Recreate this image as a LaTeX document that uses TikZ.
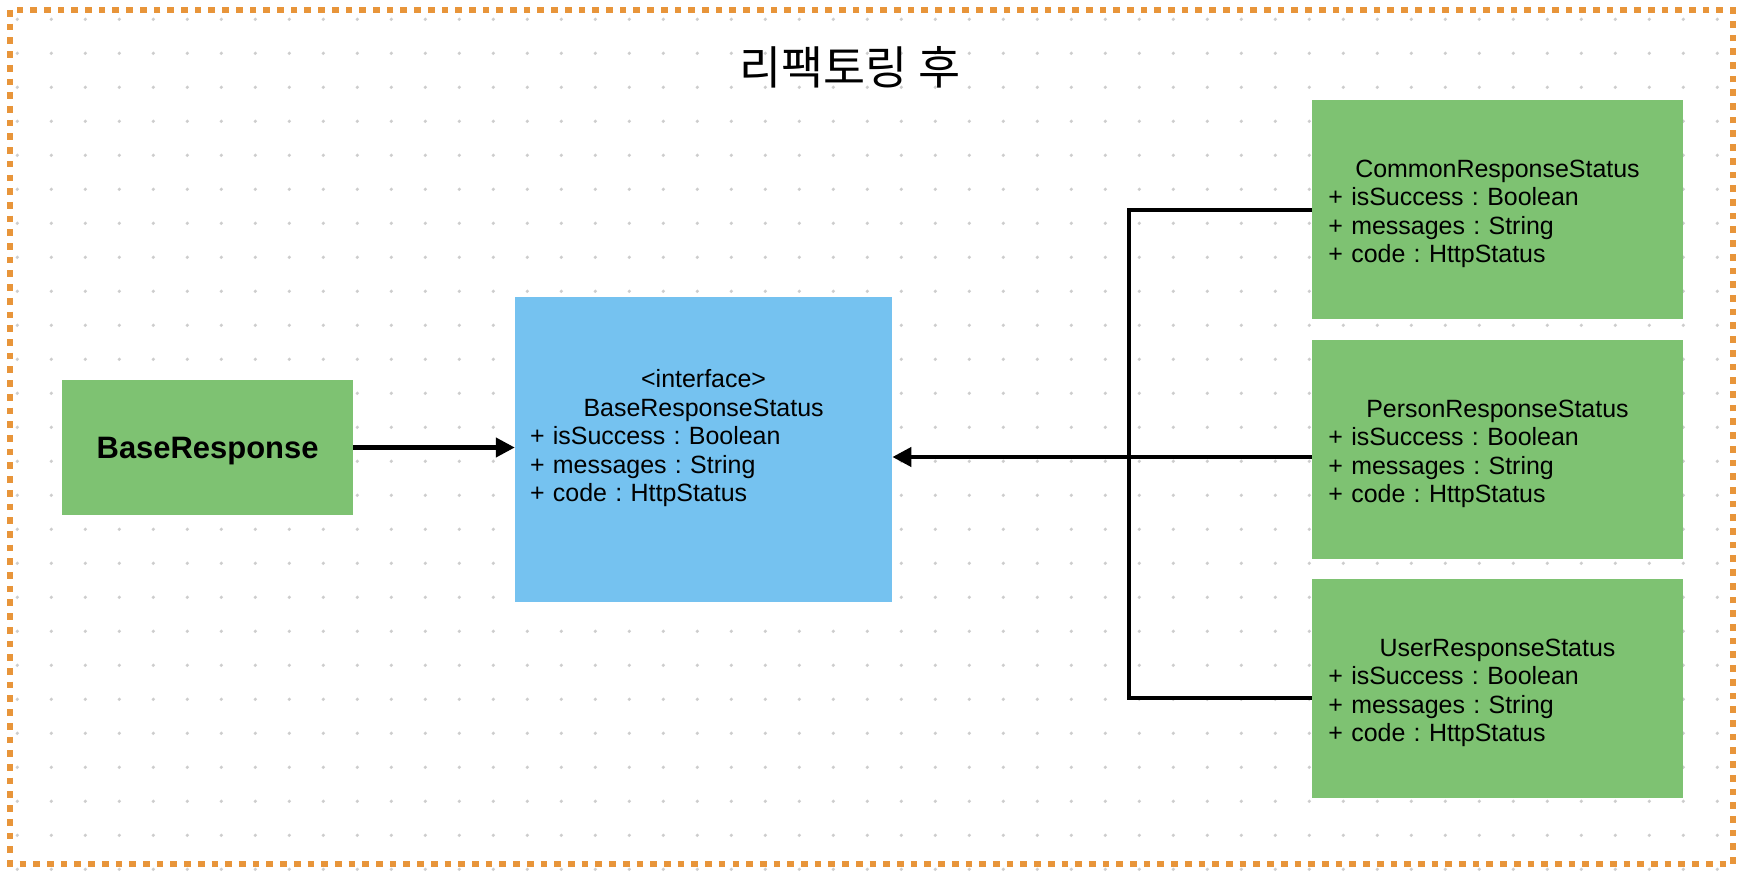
\documentclass[tikz,border=0pt]{standalone}
\usepackage{fontspec}
\setmainfont{Liberation Sans}
\newfontfamily\krfont{Noto Sans CJK KR}
\usetikzlibrary{arrows.meta}
\frenchspacing

\definecolor{frameorange}{RGB}{232,149,58}
\definecolor{boxgreen}{RGB}{126,194,114}
\definecolor{boxblue}{RGB}{117,194,240}
\definecolor{dotgray}{RGB}{205,205,205}

\begin{document}
\begin{tikzpicture}[x=0.01cm, y=-0.01cm,
        classbox/.style={fill=boxgreen, inner xsep=0.16cm, minimum width=3.7cm, minimum height=2.186cm,
                text width=3.38cm, align=left, font=\fontsize{7.1}{8.1}\selectfont},
        ifacebox/.style={fill=boxblue, minimum width=3.76cm, minimum height=3.045cm},
        wire/.style={line width=1.2pt},
        arrowwire/.style={wire, -{Triangle[length=0.19cm,width=0.19cm]}}]
                \useasboundingbox (0,0) rectangle (1750,876);

                % Dot grid
                \foreach \i in {0,...,50}
                        \foreach \j in {0,...,25}
                                \fill[dotgray] ({17.3+34*\i},{19.3+34*\j}) circle (1.8);

                % Frame & title
                \draw[frameorange, line width=0.067cm, dash pattern=on 0.067cm off 0.07cm] (10,10) rectangle (1733,864);
                \node[font=\krfont\fontsize{13}{15}\selectfont] (title) at (850,67) {리팩토링 후};

                % Boxes
                \node[fill=boxgreen, minimum width=2.902cm, minimum height=1.34cm, text depth=0pt,
                        font=\bfseries\fontsize{8.8}{10}\selectfont] (resp) at (207.6,447.5) {BaseResponse};

                \node[ifacebox] (base) at (703.6,449.2) {};
                \node[text width=3.47cm, inner sep=0, align=left, font=\fontsize{7.1}{8.1}\selectfont] (baseTxt) at (703.6,438.5)
                        {{\centering <interface>\\BaseResponseStatus\par}+ isSuccess : Boolean\\+ messages : String\\+ code : HttpStatus};

                \node[classbox] (common) at (1497.5,209.7)
                        {{\centering\rule{0pt}{7.2pt}CommonResponseStatus\par}+ isSuccess : Boolean\\+ messages : String\\+ code : HttpStatus};
                \node[classbox] (person) at (1497.5,449.7)
                        {{\centering\rule{0pt}{7.2pt}PersonResponseStatus\par}+ isSuccess : Boolean\\+ messages : String\\+ code : HttpStatus};
                \node[classbox] (user) at (1497.5,688.7)
                        {{\centering\rule{0pt}{7.2pt}UserResponseStatus\par}+ isSuccess : Boolean\\+ messages : String\\+ code : HttpStatus};

                % Connections
                \coordinate (bus) at (1129,457);
                \coordinate (personIn) at ([yshift=-0.073cm]person.west);
                \coordinate (userIn) at ([yshift=-0.09cm]user.west);
                \draw[arrowwire] (resp.east) -- (resp.east -| base.west);
                \draw[wire] (common.west) -| (bus) |- (userIn);
                \draw[arrowwire] (personIn) -- (personIn -| base.east);
\end{tikzpicture}
\end{document}
